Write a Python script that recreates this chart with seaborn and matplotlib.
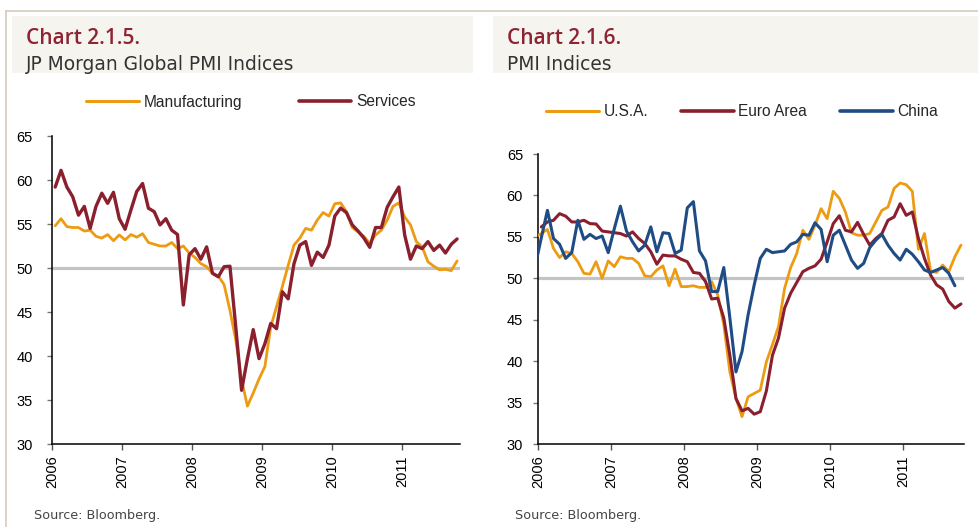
import numpy as np
import pandas as pd
import matplotlib
matplotlib.use("Agg")
import matplotlib.pyplot as plt
import seaborn as sns
from matplotlib.patches import Rectangle
from matplotlib.lines import Line2D

nan = np.nan

# ---------------- Chart 2.1.5 data (monthly, Jan 2006 .. Oct 2011) ----------------
global_manufacturing = [
    54.8, 55.6, 54.7, 54.6, 54.6, 54.2, 54.3, 53.6, 53.4, 53.8, 53.1, 53.75,
    53.2, 53.8, 53.5, 53.9, 52.9, 52.7, 52.5, 52.5, 52.9, 52.2, 52.5, 51.7,
    51.2, 50.5, 50.15, 49.4, 49.1, 48.1, 45.2, 41.8, 37.3, 34.3, 35.8, 37.4,
    38.8, 43.3, 45.6, 47.9, 50.3, 52.6, 53.4, 54.5, 54.3, 55.45, 56.3, 55.9,
    57.3, 57.4, 56.4, 54.6, 54.1, 53.6, 52.8, 53.75, 54.3, 55.45, 57.0, 57.4,
    55.8, 54.9, 53.0, 52.4, 50.7, 50.2, 49.8, 49.85, 49.7, 50.8,
]
global_services = [
    59.2, 61.1, 59.2, 58.1, 56.0, 57.0, 54.5, 57.0, 58.5, 57.35, 58.6, 55.6,
    54.4, 56.6, 58.7, 59.6, 56.8, 56.4, 54.9, 55.6, 54.3, 53.8, 45.8, 51.5,
    52.2, 51.0, 52.4, 49.4, 49.0, 50.15, 50.2, 43.3, 36.1, 39.7, 43.0, 39.7,
    41.4, 43.7, 43.1, 47.3, 46.5, 50.5, 52.6, 53.0, 50.3, 51.8, 51.2, 52.6,
    55.9, 56.8, 56.3, 54.9, 54.2, 53.4, 52.35, 54.6, 54.6, 56.9, 58.1, 59.2,
    53.75, 51.0, 52.5, 52.2, 53.0, 52.0, 52.6, 51.7, 52.7, 53.3,
]

# ---------------- Chart 2.1.6 data (monthly, Dec 2005 .. Oct 2011) ----------------
usa = [
    55.0,
    55.4, 55.9, 53.6, 52.5, 53.2, 53.0, 52.0, 50.6, 50.5, 52.0, 50.0, 52.1,
    51.4, 52.6, 52.4, 52.4, 51.8, 50.3, 50.2, 51.0, 51.5, 49.1, 51.1, 49.0,
    49.0, 49.1, 48.9, 48.9, 49.6, 48.0, 44.4, 38.7, 35.5, 33.3, 35.7, 36.1,
    36.5, 39.9, 42.0, 44.2, 48.8, 51.3, 53.0, 55.8, 54.7, 56.4, 58.4, 57.2,
    60.5, 59.65, 58.0, 55.5, 55.2, 55.2, 55.4, 56.8, 58.2, 58.6, 60.85, 61.5,
    61.3, 60.5, 53.5, 55.4, 50.9, 50.7, 51.6, 50.8, 52.6, 54.0,
]
euro_area = [
    nan,
    56.2, 56.8, 57.0, 57.8, 57.5, 56.8, 56.8, 57.0, 56.6, 56.55, 55.7, 55.6,
    55.5, 55.4, 55.1, 55.6, 54.8, 54.2, 53.2, 51.7, 52.8, 52.7, 52.7, 52.3,
    52.0, 50.7, 50.6, 49.6, 47.5, 47.6, 45.2, 40.7, 35.5, 34.0, 34.3, 33.6,
    33.9, 36.4, 40.7, 42.8, 46.4, 48.2, 49.5, 50.8, 51.2, 51.5, 52.3, 54.4,
    56.6, 57.55, 55.8, 55.6, 56.75, 55.3, 54.0, 54.8, 55.4, 57.0, 57.4, 59.0,
    57.6, 58.0, 54.8, 52.4, 50.4, 49.2, 48.7, 47.2, 46.4, 46.9,
]
china = [
    51.5,
    54.9, 58.2, 54.8, 54.1, 52.4, 53.1, 57.0, 54.7, 55.3, 54.8, 55.1, 53.1,
    56.0, 58.7, 55.7, 54.4, 53.3, 54.0, 56.2, 53.2, 55.5, 55.4, 53.0, 53.4,
    58.5, 59.25, 53.3, 52.1, 48.4, 48.4, 51.3, 45.2, 38.7, 41.15, 45.6, 49.2,
    52.4, 53.5, 53.1, 53.2, 53.3, 54.1, 54.4, 55.3, 55.2, 56.7, 55.9, 52.0,
    55.2, 55.8, 54.0, 52.2, 51.2, 51.8, 53.7, 54.6, 55.3, 54.0, 53.0, 52.2,
    53.5, 52.9, 52.0, 51.0, 50.7, 51.0, 51.3, 50.6, 49.1, nan,
]

year_ticks = [2006, 2007, 2008, 2009, 2010, 2011]
y_ticks = [30, 35, 40, 45, 50, 55, 60, 65]

# ---------------- styling ----------------
ORANGE = "#EC9B12"
RED = "#8A1F2E"
BLUE = "#1F4C84"
GREY50 = "#C4C4C4"
TITLE_RED = "#8E2433"

sns.set_theme(style="white")
plt.rcParams["font.family"] = ["Liberation Sans", "DejaVu Sans"]

W, H = 979, 527
fig = plt.figure(figsize=(W / 100, H / 100), dpi=100)
fig.patch.set_facecolor("white")


def fx(px):
    return px / W


def fy(py):
    return 1 - py / H


# frame lines and header panels
fig.add_artist(Line2D([fx(6.5), 1], [fy(11), fy(11)], transform=fig.transFigure, color="#D6CCBA", lw=1.2))
fig.add_artist(Line2D([fx(6.5), fx(6.5)], [0, fy(11)], transform=fig.transFigure, color="#D6CCBA", lw=1.2))
fig.add_artist(Rectangle((fx(12), fy(73)), fx(473 - 12), (73 - 16) / H, transform=fig.transFigure,
                         facecolor="#F6F4EF", edgecolor="none", zorder=0))
fig.add_artist(Rectangle((fx(493), fy(73)), fx(979 - 493), (73 - 16) / H, transform=fig.transFigure,
                         facecolor="#F6F4EF", edgecolor="none", zorder=0))

title_font = ["Open Sans", "DejaVu Sans"]
sub_font = ["DejaVu Sans"]
fig.text(fx(26), fy(39), "Chart 2.1.5.", color=TITLE_RED, fontsize=15, fontweight="semibold",
         va="center", ha="left", family=title_font)
fig.text(fx(26), fy(64), "JP Morgan Global PMI Indices", color="#333333", fontsize=13.4, va="center",
         ha="left", family=sub_font)
fig.text(fx(507), fy(39), "Chart 2.1.6.", color=TITLE_RED, fontsize=15, fontweight="semibold",
         va="center", ha="left", family=title_font)
fig.text(fx(507), fy(64), "PMI Indices", color="#333333", fontsize=13.4, va="center", ha="left", family=sub_font)

fig.text(fx(34), fy(515), "Source: Bloomberg.", color="#444444", fontsize=9.2, va="center", ha="left", family=sub_font)
fig.text(fx(515), fy(515), "Source: Bloomberg.", color="#444444", fontsize=9.2, va="center", ha="left", family=sub_font)

ax1 = fig.add_axes([fx(52.3), fy(444), fx(460 - 52.3), (444 - 136) / H])
ax2 = fig.add_axes([fx(538.3), fy(444), fx(964 - 538.3), (444 - 154) / H])

# data frames
x_left = [2006 + (i + 0.5) / 12 for i in range(len(global_manufacturing))]
df_left = pd.DataFrame({"x": x_left, "Manufacturing": global_manufacturing, "Services": global_services})
x_right = [2006 + (i - 0.5) / 12 for i in range(len(usa))]
df_right = pd.DataFrame({"x": x_right, "U.S.A.": usa, "Euro Area": euro_area, "China": china})

for ax in (ax1, ax2):
    ax.axhline(50, color=GREY50, lw=2.3, zorder=1)

sns.lineplot(data=df_left, x="x", y="Manufacturing", ax=ax1, color=ORANGE, lw=2.0, zorder=3)
sns.lineplot(data=df_left, x="x", y="Services", ax=ax1, color=RED, lw=2.4, zorder=4)

sns.lineplot(data=df_right, x="x", y="U.S.A.", ax=ax2, color=ORANGE, lw=2.0, zorder=3)
sns.lineplot(data=df_right, x="x", y="Euro Area", ax=ax2, color=RED, lw=2.2, zorder=4)
sns.lineplot(data=df_right, x="x", y="China", ax=ax2, color=BLUE, lw=2.2, zorder=5)

end_x = 2006 + 70 / 12
for ax, ypad in ((ax1, 10.5), (ax2, 7.5)):
    ax.set_xlim(2006, end_x)
    ax.set_ylim(30, 65)
    ax.set_xticks(year_ticks)
    ax.set_xticklabels([str(y) for y in year_ticks], rotation=90, fontsize=10.5, color="black")
    ax.set_yticks(y_ticks)
    ax.set_yticklabels([str(v) for v in y_ticks], fontsize=10.5, color="black")
    ax.set_xlabel("")
    ax.set_ylabel("")
    ax.set_facecolor("white")
    for side in ("top", "right"):
        ax.spines[side].set_visible(False)
    for side in ("left", "bottom"):
        ax.spines[side].set_visible(True)
        ax.spines[side].set_color("black")
        ax.spines[side].set_linewidth(1.1)
    ax.tick_params(axis="y", direction="out", length=3.5, width=1.0, color="#777777", pad=ypad, left=True)
    ax.tick_params(axis="x", direction="out", length=4, width=1.0, color="#555555", pad=4, bottom=True)
    ax.grid(False)

# legends
h_left = [Line2D([], [], color=ORANGE, lw=2.2), Line2D([], [], color=RED, lw=2.6)]
leg1 = ax1.legend(h_left, ["Manufacturing", "Services"], ncol=2, frameon=False, fontsize=11.2,
                  handlelength=3.4, handletextpad=0.3, columnspacing=3.6,
                  loc="center", bbox_to_anchor=(fx(251), fy(102)), bbox_transform=fig.transFigure)
h_right = [Line2D([], [], color=ORANGE, lw=2.2), Line2D([], [], color=RED, lw=2.6), Line2D([], [], color=BLUE, lw=2.6)]
leg2 = ax2.legend(h_right, ["U.S.A.", "Euro Area", "China"], ncol=3, frameon=False, fontsize=11.2,
                  handlelength=3.4, handletextpad=0.3, columnspacing=2.1,
                  loc="center", bbox_to_anchor=(fx(742), fy(112)), bbox_transform=fig.transFigure)

fig.savefig("out.png", dpi=100, facecolor="white")
